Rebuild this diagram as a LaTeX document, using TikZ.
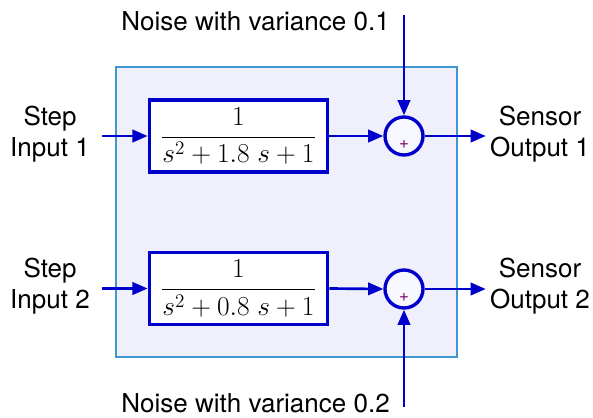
\RequirePackage{fix-cm}
\documentclass[tikz,border=0pt]{standalone}
\usepackage[no-math]{fontspec}
\setmainfont{TeX Gyre Heros}
\usetikzlibrary{arrows.meta,positioning}
\definecolor{sigblue}{RGB}{0,0,204}
\definecolor{boxedge}{RGB}{64,150,208}
\definecolor{boxfill}{RGB}{240,240,252}
\definecolor{plusred}{RGB}{128,0,96}
\tikzset{
  lbl/.style={font=\fontsize{18.5}{22.5}\selectfont, align=center, inner sep=0pt},
  tfblock/.style={draw=sigblue, line width=2.6pt, fill=white, minimum width=4.45cm,
    minimum height=1.8cm, inner sep=0pt, font=\fontsize{19.5}{23}\selectfont},
  sumnode/.style={circle, draw=sigblue, line width=2.4pt, fill=blue!3, minimum size=0.95cm, inner sep=0pt},
  plus/.style={text=plusred, inner sep=0pt, font=\fontsize{12}{12}\selectfont},
  sig/.style={draw=sigblue, line width=1.9pt, -{Triangle[length=0.38cm,width=0.31cm]}}
}
\begin{document}
\begin{tikzpicture}[x=0.025cm,y=-0.025cm]
  \useasboundingbox (0,0) rectangle (593,417);
  \draw[boxedge, fill=boxfill, line width=1.8pt] (116,67) rectangle (457,357);
  \node[tfblock] (g1) at (238.5,136) {$\displaystyle\frac{1}{s^2+1.8\ s+1}$};
  \node[tfblock] (g2) at (238.5,288.5) {$\displaystyle\frac{1}{s^2+0.8\ s+1}$};
  \node[sumnode] (s1) at (404,136) {};
  \node[sumnode] (s2) at (404,289) {};
  \node[plus] (p1) at ([yshift=-0.22cm]s1.center) {+};
  \node[plus] (p2) at ([yshift=-0.22cm]s2.center) {+};
  \node[lbl, inner xsep=0.3cm] (in1) at (50,134) {Step\\Input 1};
  \node[lbl, inner xsep=0.3cm] (in2) at (50,286) {Step\\Input 2};
  \node[lbl, inner xsep=0.1cm] (out1) at (540,134) {Sensor\\Output 1};
  \node[lbl, inner xsep=0.1cm] (out2) at (540,286) {Sensor\\Output 2};
  \coordinate (n1) at (404,15);
  \coordinate (n2) at (404,407);
  \node[lbl, anchor=east] (t1) at (390,21) {Noise with variance 0.1};
  \node[lbl, anchor=east] (t2) at (390,403) {Noise with variance 0.2};
  \draw[sig] (g1.west -| in1.east) -- (g1.west);
  \draw[sig] (g2.west -| in2.east) -- (g2.west);
  \draw[sig] (g1.east) -- (s1.west);
  \draw[sig] (g2.east) -- (s2.west);
  \draw[sig] (s1.east) -- (s1.east -| out1.west);
  \draw[sig] (s2.east) -- (s2.east -| out2.west);
  \draw[sig] (n1) -- (s1.north);
  \draw[sig] (n2) -- (s2.south);
\end{tikzpicture}
\end{document}
